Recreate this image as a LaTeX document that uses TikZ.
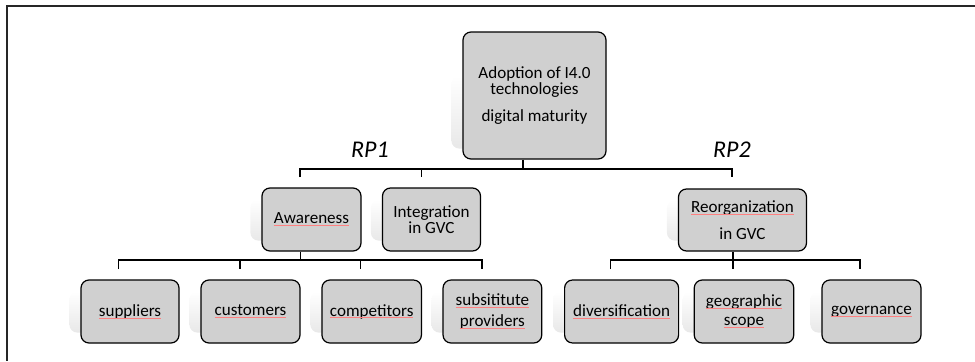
\documentclass[tikz,border=0pt]{standalone}
\usepackage{fontspec}
\setmainfont{Carlito}
\usetikzlibrary{calc,backgrounds}
\definecolor{boxgray}{HTML}{D0D0D0}
\newsavebox\splbox
\newcommand\spl[1]{\sbox\splbox{#1}\leavevmode\usebox\splbox\llap{\textcolor{red!50}{\rule[-1.5pt]{\wd\splbox}{0.4pt}}}}
\begin{document}
\begin{tikzpicture}[x=0.75pt,y=-0.75pt,
  box/.style={draw=black,line width=0.9pt,fill=boxgray,rounded corners=6pt,
    align=center,inner sep=0pt,font=\fontsize{12.8}{9.6}\selectfont},
  bx/.style 2 args={box,minimum width=#1*0.75pt,minimum height=#2*0.75pt},
  conn/.style={draw=black,line width=0.9pt},
  rp/.style={font=\fontsize{18}{18}\selectfont\itshape,inner sep=0pt,anchor=base},
  shadowbox/.style={top color=white,bottom color=gray!18,rounded corners=6pt,draw=none}]
\useasboundingbox (0,0) rectangle (975,361);
\draw[line width=1.2pt,draw=black!85] (975,6) -- (7,6) -- (7,361);

% nodes
\node[bx={143}{127}] (root) at (534.5,95.5) {Adoption of I4.0\\technologies\\[8.25pt]digital maturity};
\node[bx={99}{63}] (aw) at (311.5,219.5) {\spl{Awareness}};
\node[bx={98}{63}] (ig) at (431.5,219.5) {Integration\\in GVC};
\node[bx={128}{62}] (ro) at (742.5,220) {\spl{Reorganization}\\[8pt]in GVC};
\node[bx={98}{63}] (s1) at (130,311.5) {\spl{suppliers}};
\node[bx={99}{63}] (s2) at (250.5,311.5) {\spl{customers}};
\node[bx={99.5}{63}] (s3) at (371.7,311.5) {\spl{competitors}};
\node[bx={98.7}{63}] (s4) at (492.4,311.5) {\spl{subsititute}\\[4.5pt]\spl{providers}};
\node[bx={114}{63}] (t1) at (621.6,311.5) {\spl{diversification}};
\node[bx={99.5}{63}] (t2) at (744,311.5) {\spl{geographic}\\[4.5pt]\spl{scope}};
\node[bx={99}{63}] (t3) at (871.5,311.5) {\spl{governance}};

\node[rp] (rp1) at (370,157.3) {RP1};
\node[rp] (rp2) at (732,157.3) {RP2};

% shadows
\begin{scope}[on background layer]
\foreach \n in {root,aw,ig,ro,s1,s2,s3,s4,t1,t2,t3}{
  \shade[shadowbox] ($(\n.west)+(-11,-20)$) rectangle ($(\n.south east)+(-11,-11)$);
}
\end{scope}

% connectors
\coordinate (j0) at (523,169);
\coordinate (d1) at (300,177);
\coordinate (d2) at (421.7,177);
\coordinate (d3) at (732,177);
\draw[conn] (root.south -| j0) -- (j0);
\draw[conn] (d1) -- (d1 |- j0) -- (d3 |- j0) -- (d3);
\draw[conn] (d2 |- j0) -- (d2);

\coordinate (j1) at (300.4,260);
\coordinate (e1) at (118.8,269);
\coordinate (e2) at (240,269);
\coordinate (e3) at (360.7,269);
\coordinate (e4) at (482,269);
\draw[conn] (aw.south -| j1) -- (j1);
\draw[conn] (e1) -- (e1 |- j1) -- (e4 |- j1) -- (e4);
\draw[conn] (e2 |- j1) -- (e2);
\draw[conn] (e3 |- j1) -- (e3);

\coordinate (f1) at (610.7,269);
\coordinate (f2) at (733,269);
\coordinate (f3) at (860,269);
\coordinate (fb) at (733,260);
\draw[conn] (ro.south -| f2) -- (f2);
\draw[conn] (f1) -- (f1 |- fb) -- (f3 |- fb) -- (f3);
\end{tikzpicture}
\end{document}
